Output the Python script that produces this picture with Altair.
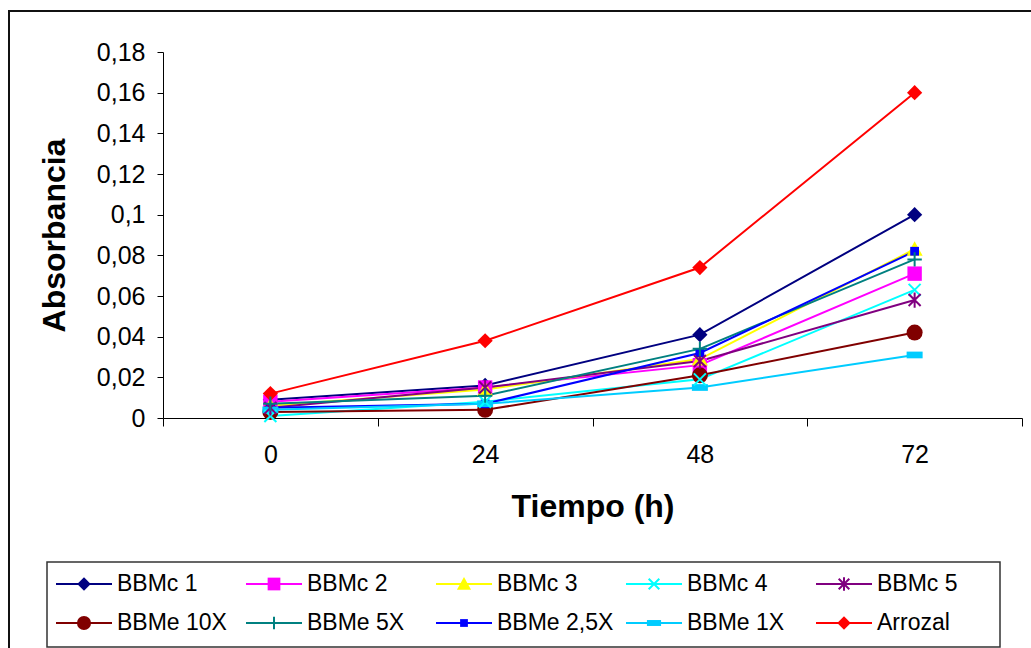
import altair as alt
import pandas as pd

# ---------------- data ----------------
tiempo = [0, 24, 48, 72]
series = ["BBMc 1", "BBMc 2", "BBMc 3", "BBMc 4", "BBMc 5",
          "BBMe 10X", "BBMe 5X", "BBMe 2,5X", "BBMe 1X", "Arrozal"]
bbmc1 = [0.009, 0.016, 0.041, 0.100]
bbmc2 = [0.008, 0.015, 0.026, 0.071]
bbmc3 = [0.006, 0.014, 0.029, 0.083]
bbmc4 = [0.001, 0.008, 0.019, 0.063]
bbmc5 = [0.005, 0.015, 0.028, 0.058]
bbme10x = [0.003, 0.004, 0.021, 0.042]
bbme5x = [0.007, 0.011, 0.034, 0.078]
bbme25x = [0.005, 0.007, 0.032, 0.082]
bbme1x = [0.004, 0.007, 0.015, 0.031]
arrozal = [0.012, 0.038, 0.074, 0.160]
y_ticks = [0, 0.02, 0.04, 0.06, 0.08, 0.1, 0.12, 0.14, 0.16, 0.18]

# ---------------- styles ----------------
colors = ["#000080", "#FF00FF", "#FFFF00", "#00FFFF", "#800080",
          "#800000", "#008080", "#0000FF", "#00CCFF", "#FF0000"]
DIAMOND = "M-0.95,0L0,-0.95L0.95,0L0,0.95Z"
SQUARE = "M-0.9,-0.9H0.9V0.9H-0.9Z"
TRIANGLE = "M0,-1L1,0.8H-1Z"
XMARK = "M-0.75,-0.75L0.75,0.75M-0.75,0.75L0.75,-0.75"
STAR = "M-0.75,-0.75L0.75,0.75M-0.75,0.75L0.75,-0.75M0,-0.95V0.95"
CIRCLE = "circle"
PLUS = "M-0.9,0H0.9M0,-0.9V0.9"
SMALLSQ = "M-0.55,-0.55H0.55V0.55H-0.55Z"
DASH = "M-1,-0.42H1V0.42H-1Z"
shapes = [DIAMOND, SQUARE, TRIANGLE, XMARK, STAR, CIRCLE, PLUS, SMALLSQ, DASH, DIAMOND]
stroked_series = ["BBMc 4", "BBMc 5", "BBMe 5X"]
filled_series = [s for s in series if s not in stroked_series]

FONT = "Liberation Sans"

values = [bbmc1, bbmc2, bbmc3, bbmc4, bbmc5, bbme10x, bbme5x, bbme25x, bbme1x, arrozal]
rows = []
for s, vals in zip(series, values):
    for t, v in zip(tiempo, vals):
        rows.append({"serie": s, "Tiempo": t, "Abs": v})
df = pd.DataFrame(rows)

leg = pd.DataFrame({"serie": series, "idx": list(range(len(series)))})

color_enc = alt.Color("serie:N", scale=alt.Scale(domain=series, range=colors), legend=None)
shape_enc = alt.Shape("serie:N", scale=alt.Scale(domain=series, range=shapes), legend=None)

x_enc = alt.X("Tiempo:O",
              scale=alt.Scale(type="band", paddingInner=0, paddingOuter=0),
              axis=alt.Axis(title="Tiempo (h)", tickBand="extent", labelAngle=0,
                            tickSize=8, labelPadding=16, titlePadding=24,
                            labelFontSize=25, titleFontSize=32, titleFontWeight="bold"))
y_enc = alt.Y("Abs:Q",
              scale=alt.Scale(domain=[0, 0.18], nice=False, zero=True),
              axis=alt.Axis(title="Absorbancia", values=y_ticks, format=".2~f",
                            labelExpr="replace(datum.label, '.', ',')",
                            tickSize=6, labelPadding=12, titlePadding=25,
                            labelFontSize=25, titleFontSize=32, titleFontWeight="bold"))

base = alt.Chart(df).encode(x=x_enc, y=y_enc, color=color_enc)
lines = base.mark_line(strokeWidth=2).encode(detail="serie:N")
pts_filled = base.transform_filter(
    alt.FieldOneOfPredicate(field="serie", oneOf=filled_series)
).mark_point(filled=True, opacity=1, size=256).encode(shape=shape_enc)
pts_stroked = base.transform_filter(
    alt.FieldOneOfPredicate(field="serie", oneOf=stroked_series)
).mark_point(filled=False, opacity=1, size=256, strokeWidth=2).encode(shape=shape_enc)

main = alt.layer(lines, pts_filled, pts_stroked)

# ---------------- custom legend ----------------
lx = alt.Scale(domain=[0, 5], range=[56 - 163, 56 - 163 + 950])
ly = alt.Scale(domain=[0, 1], range=[584 - 52, 623 - 52])
lbase = alt.Chart(leg).transform_calculate(
    col="datum.idx % 5",
    row="floor(datum.idx / 5)",
    xend="datum.col + 56/190",
    xmid="datum.col + 28/190",
    xtxt="datum.col + 61/190",
)
lrule = lbase.mark_rule(strokeWidth=2).encode(
    x=alt.X("col:Q", scale=lx, axis=None),
    x2="xend:Q",
    y=alt.Y("row:Q", scale=ly, axis=None),
    color=color_enc,
)
lpt_f = lbase.transform_filter(
    alt.FieldOneOfPredicate(field="serie", oneOf=filled_series)
).mark_point(filled=True, opacity=1, size=200).encode(
    x=alt.X("xmid:Q", scale=lx, axis=None),
    y=alt.Y("row:Q", scale=ly, axis=None),
    color=color_enc, shape=shape_enc,
)
lpt_s = lbase.transform_filter(
    alt.FieldOneOfPredicate(field="serie", oneOf=stroked_series)
).mark_point(filled=False, opacity=1, size=200, strokeWidth=2).encode(
    x=alt.X("xmid:Q", scale=lx, axis=None),
    y=alt.Y("row:Q", scale=ly, axis=None),
    color=color_enc, shape=shape_enc,
)
ltxt = lbase.mark_text(align="left", baseline="middle", fontSize=23, font=FONT, color="black").encode(
    x=alt.X("xtxt:Q", scale=lx, axis=None),
    y=alt.Y("row:Q", scale=ly, axis=None),
    text="serie:N",
)
one = pd.DataFrame({"a": [0]})
lbox = alt.Chart(one).mark_rect(fill=None, stroke="#333333", strokeWidth=1.5).encode(
    x=alt.value(47 - 163), x2=alt.value(1000 - 163),
    y=alt.value(562 - 52), y2=alt.value(647 - 52),
)
outer = alt.Chart(one).mark_rect(fill=None, stroke="#111111", strokeWidth=2).encode(
    x=alt.value(9 - 163), x2=alt.value(1031 - 163 + 40),
    y=alt.value(11 - 52), y2=alt.value(648 - 52 + 40),
)

legend = alt.layer(lbox, lrule, lpt_f, lpt_s, ltxt)

chart = alt.layer(outer, main, legend).resolve_scale(
    x="independent", y="independent"
).properties(
    width=859, height=366,
    autosize=alt.AutoSizeParams(type="none"),
    padding={"left": 163, "top": 52, "right": 9, "bottom": 230},
    background="white",
).configure_view(stroke=None).configure_axis(
    labelFont=FONT, titleFont=FONT, labelColor="black", titleColor="black",
    domainColor="black", tickColor="black", grid=False, domainWidth=1, tickWidth=1,
)

chart.save("out.html", embed_options={"renderer": "svg", "actions": False})
